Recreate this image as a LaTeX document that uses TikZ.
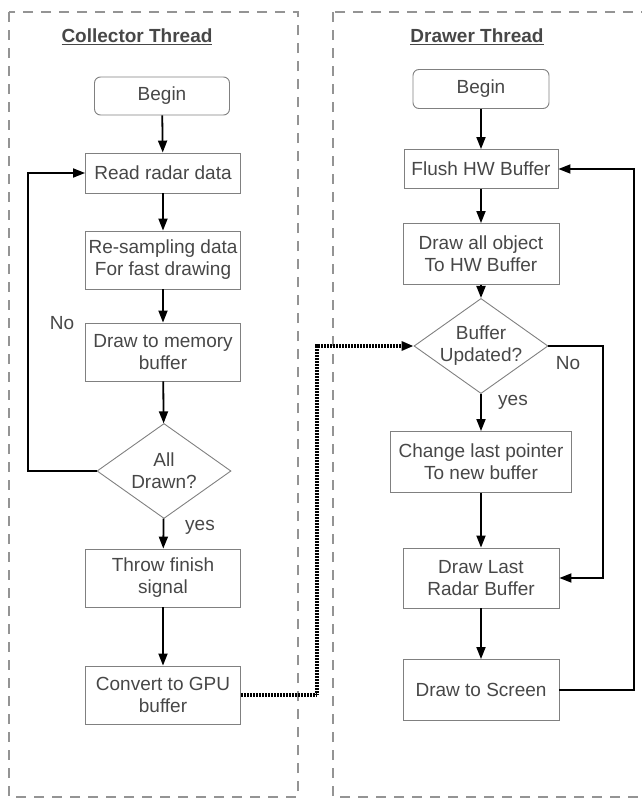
\documentclass[tikz,border=0pt]{standalone}
\usepackage{fontspec}
\setmainfont{Liberation Sans}
\usetikzlibrary{shapes.geometric,arrows.meta}

\begin{document}
\begin{tikzpicture}[x=1pt, y=-1pt, font=\fontsize{19}{22}\selectfont]
\tikzstyle{vertexr}=[rectangle, draw=black!50, line width=0.9pt, text=black!72, align=center, minimum width=155pt, inner sep=2pt]
\tikzstyle{vertexb}=[vertexr, rounded corners=6pt, minimum width=135pt, minimum height=38pt]
\tikzstyle{vertexd}=[diamond, draw=black!50, line width=0.9pt, text=black!72, align=center, aspect=1.4, inner sep=-1pt, minimum width=134pt, minimum height=95pt]
\tikzstyle{drawstyle}=[line width=1.8pt, -{Triangle[length=12pt,width=9pt]}]
\tikzstyle{linkstyle}=[line width=3.2pt, dash pattern=on 1pt off 0.5pt, -{Triangle[length=12pt,width=9pt]}]
\tikzstyle{framestyle}=[draw=black!42, line width=1.2pt, dash pattern=on 10pt off 8pt]
\tikzstyle{labelstyle}=[text=black!72, inner sep=0pt]

\useasboundingbox (0,0) rectangle (641,798);
\draw[framestyle] (9,12) rectangle (298,797);
\draw[framestyle] (333,12) rectangle (670,797);

\node[labelstyle] (Cxt) at (137,37) {\underline{\textbf{Collector Thread}}};
\node[labelstyle] (Dxt) at (477,37) {\underline{\textbf{Drawer Thread}}};

% collector thread
\node[vertexb] (Cx0) at (162,96) {Begin};
\node[vertexr, minimum height=40pt] (Cx1) at (163,173) {Read radar data};
\node[vertexr, minimum height=58pt] (Cx2) at (163,260) {Re-sampling data\\For fast drawing};
\node[vertexr, minimum height=58pt] (Cx3) at (163,352) {Draw to memory\\buffer};
\node[vertexd] (Cx4) at (164,471) {All\\Drawn?};
\node[vertexr, minimum height=58pt] (Cx5) at (163,578) {Throw finish\\signal};
\node[vertexr, minimum height=58pt] (Cx6) at (163,695) {Convert to GPU\\buffer};
\coordinate (CxL) at (28,471);
\node[labelstyle] (CxNo) at (62,323) {No};
\node[labelstyle] (CxYes) at (200,527) {yes};

\draw[drawstyle] (Cx0) -- (Cx1);
\draw[drawstyle] (Cx1) -- (Cx2);
\draw[drawstyle] (Cx2) -- (Cx3);
\draw[drawstyle] (Cx3) -- (Cx4);
\draw[drawstyle] (Cx4) -- (Cx5);
\draw[drawstyle] (Cx5) -- (Cx6);
\draw[drawstyle] (Cx4.west) -- (CxL) |- (Cx1.west);

% drawer thread
\node[vertexb, minimum height=39pt, minimum width=136pt] (Dx0) at (481,89) {Begin};
\node[vertexr, minimum height=39pt, minimum width=154pt] (Dx1) at (481,169) {Flush HW Buffer};
\node[vertexr, minimum height=61pt, minimum width=156pt] (Dx2) at (481,254) {Draw all object\\To HW Buffer};
\node[vertexd, minimum height=94pt] (Dx3) at (481,346) {Buffer\\Updated?};
\node[vertexr, minimum height=61pt, minimum width=181pt] (Dx4) at (481,462) {Change last pointer\\To new buffer};
\node[vertexr, minimum height=60pt, minimum width=156pt] (Dx5) at (481,578) {Draw Last\\Radar Buffer};
\node[vertexr, minimum height=61pt, minimum width=156pt] (Dx6) at (481,690) {Draw to Screen};
\coordinate (DxR) at (603,346);
\coordinate (DxS) at (634,690);
\node[labelstyle] (DxNo) at (568,363) {No};
\node[labelstyle] (DxYes) at (513,402) {yes};

\draw[drawstyle] (Dx0) -- (Dx1);
\draw[drawstyle] (Dx1) -- (Dx2);
\draw[drawstyle] (Dx2) -- (Dx3);
\draw[drawstyle] (Dx3) -- (Dx4);
\draw[drawstyle] (Dx4) -- (Dx5);
\draw[drawstyle] (Dx5) -- (Dx6);
\draw[drawstyle] (Dx3.east) -- (DxR) |- (Dx5.east);
\draw[drawstyle] (Dx6.east) -- (DxS) |- (Dx1.east);

% hand-over between threads
\coordinate (Mx0) at (317,695);
\draw[linkstyle] (Cx6.east) -- (Mx0) |- (Dx3.west);
\end{tikzpicture}
\end{document}
